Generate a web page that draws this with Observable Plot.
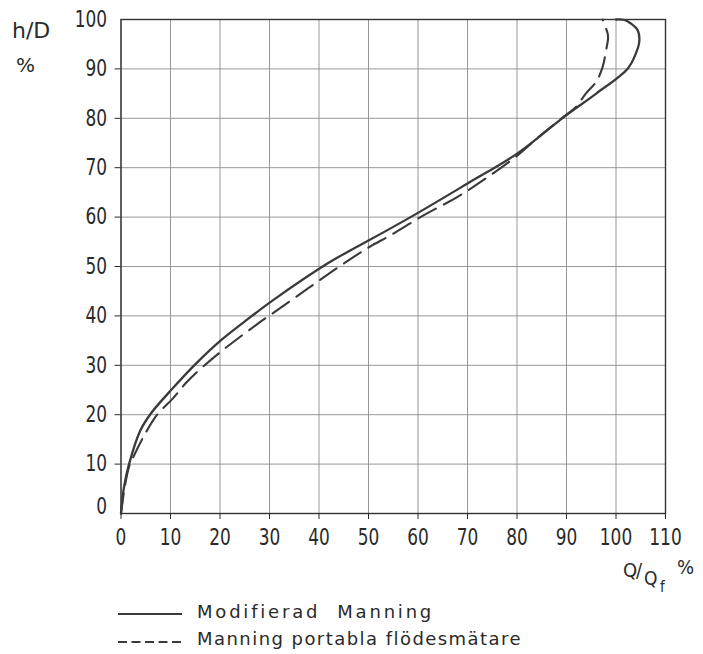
<!DOCTYPE html>
<html>
<head>
<meta charset="utf-8">
<script src="https://cdn.jsdelivr.net/npm/d3@7"></script>
<script src="https://cdn.jsdelivr.net/npm/@observablehq/plot@0.6"></script>
<style>
  html, body { margin: 0; padding: 0; background: #fff; }
  #wrap { position: relative; width: 703px; height: 654px; background: #fff; overflow: hidden; }
  .lbl { position: absolute; white-space: nowrap; line-height: 1; color: #2a2a2a; font-family: "DejaVu Sans", sans-serif; }
</style>
</head>
<body>
<div id="wrap"></div>
<script>
// Axis ticks
const xTicks = [0, 10, 20, 30, 40, 50, 60, 70, 80, 90, 100, 110];
const yTicks = [0, 10, 20, 30, 40, 50, 60, 70, 80, 90, 100];

// "Modifierad Manning" (solid): Q/Qf % and h/D %
const solidQ = [0, 0.6, 1.6, 3.9, 6.0, 10.4, 15.1, 20.1, 26.2, 30.6, 41.7, 46.4, 50.1, 59.2, 70.0, 80.1, 89.9, 96.0, 102.4, 104.0, 104.7, 104.4, 103.0, 101.7, 100.0];
const solidH = [0, 5.3, 9.9, 16.8, 20.2, 25.3, 30.3, 35.0, 39.8, 43.1, 50.6, 53.3, 55.3, 60.4, 66.8, 72.9, 80.6, 85.0, 90.1, 93.1, 95.5, 97.8, 99.2, 99.9, 100.0];

// "Manning portabla flödesmätare" (dashed)
const dashQ = [0, 0.7, 1.6, 2.8, 4.8, 7.3, 10.4, 13.2, 16.1, 20.1, 27.2, 30.6, 37.7, 44.4, 50.1, 54.4, 61.2, 68.0, 74.1, 80.1, 84.7, 89.8, 91.9, 93.9, 96.0, 97.3, 98.0, 98.4, 98.3, 97.3];
const dashH = [0, 5.0, 9.4, 12.1, 16.0, 20.0, 23.2, 26.5, 29.3, 32.7, 38.1, 40.5, 45.5, 50.2, 53.9, 56.3, 60.4, 64.1, 68.1, 72.5, 76.5, 80.6, 82.3, 85.0, 87.4, 90.4, 93.8, 96.2, 97.2, 100.0];

const legendLabels = ["Modifierad  Manning", "Manning portabla flödesmätare"];

const solid = solidQ.map((q, i) => ({q, h: solidH[i]}));
const dashed = dashQ.map((q, i) => ({q, h: dashH[i]}));

const tickFont = "'DejaVu Sans Condensed', 'DejaVu Sans', sans-serif";
const ink = "#3a3a3a";

const chart = Plot.plot({
  width: 703,
  height: 600,
  marginLeft: 120.5,
  marginRight: 38,
  marginTop: 19,
  marginBottom: 87,
  style: {fontFamily: tickFont, fontSize: "23px", color: "#2a2a2a", background: "white", overflow: "visible"},
  x: {domain: [0, 110], label: null},
  y: {domain: [0, 100], label: null},
  marks: [
    Plot.gridX(xTicks, {stroke: "#8c8c8c", strokeOpacity: 1, strokeWidth: 0.9}),
    Plot.gridY(yTicks, {stroke: "#8c8c8c", strokeOpacity: 1, strokeWidth: 0.9}),
    Plot.frame({stroke: "#333", strokeWidth: 1.4}),
    Plot.line(solid, {x: "q", y: "h", curve: "catmull-rom", stroke: ink, strokeWidth: 2.3}),
    Plot.line(dashed, {x: "q", y: "h", curve: "catmull-rom", stroke: ink, strokeWidth: 2.1, strokeDasharray: "20,9"}),
    Plot.axisX(xTicks, {tickSize: 6, tickPadding: 9, label: null, fontSize: 23, fontFamily: tickFont}),
    Plot.axisY(yTicks.filter(d => d > 0 && d < 100), {tickSize: 6, tickPadding: 8, label: null, fontSize: 23, fontFamily: tickFont}),
    Plot.axisY([100], {tickSize: 0, tickPadding: 14, label: null, fontSize: 23, fontFamily: tickFont}),
    Plot.axisY([0], {tickSize: 0, tickPadding: 14, dy: -7, label: null, fontSize: 23, fontFamily: tickFont})
  ]
});

// narrow the tick lettering horizontally (technical-drawing style digits)
chart.querySelectorAll("text").forEach(t => {
  let tr = t.getAttribute("transform");
  if (!tr) {
    const x = +(t.getAttribute("x") || 0), y = +(t.getAttribute("y") || 0);
    t.removeAttribute("x"); t.removeAttribute("y");
    tr = `translate(${x},${y})`;
  }
  t.setAttribute("transform", tr + " scale(0.82,1)");
});

const wrap = document.getElementById("wrap");
chart.style.position = "absolute";
chart.style.left = "0px";
chart.style.top = "0px";
wrap.appendChild(chart);

// text label helper: position by left edge and baseline
function label(text, left, baseline, size, extra) {
  const el = document.createElement("div");
  el.className = "lbl";
  el.textContent = text;
  el.style.fontSize = size + "px";
  el.style.left = left + "px";
  el.style.top = (baseline - 0.846 * size) + "px";
  if (extra) Object.assign(el.style, extra);
  wrap.appendChild(el);
  return el;
}

const cond = {fontFamily: "'DejaVu Sans Condensed', 'DejaVu Sans', sans-serif"};

// y axis title
label("h/D", 12, 38.5, 22);
label("%", 16, 72, 20);

// x axis title Q/Q_f %
label("Q", 623, 577, 20, cond);
label("/", 636, 577, 20, cond);
label("Q", 644, 585, 19, cond);
label("f", 660, 593, 15, cond);
label("%", 677, 574, 20, cond);

// legend
function sample(top, dash) {
  const s = document.createElementNS("http://www.w3.org/2000/svg", "svg");
  s.setAttribute("width", "66");
  s.setAttribute("height", "6");
  s.style.position = "absolute";
  s.style.left = "117px";
  s.style.top = (top - 3) + "px";
  const l = document.createElementNS("http://www.w3.org/2000/svg", "line");
  l.setAttribute("x1", "1"); l.setAttribute("x2", "65");
  l.setAttribute("y1", "3"); l.setAttribute("y2", "3");
  l.setAttribute("stroke", ink);
  l.setAttribute("stroke-width", "1.8");
  if (dash) l.setAttribute("stroke-dasharray", "9,4.5");
  s.appendChild(l);
  wrap.appendChild(s);
}
sample(614, false);
sample(641.5, true);
label(legendLabels[0], 197, 618.5, 18, {letterSpacing: "2.8px", whiteSpace: "pre"});
label(legendLabels[1], 197, 645.5, 18, {letterSpacing: "1.45px", whiteSpace: "pre"});
</script>
</body>
</html>
